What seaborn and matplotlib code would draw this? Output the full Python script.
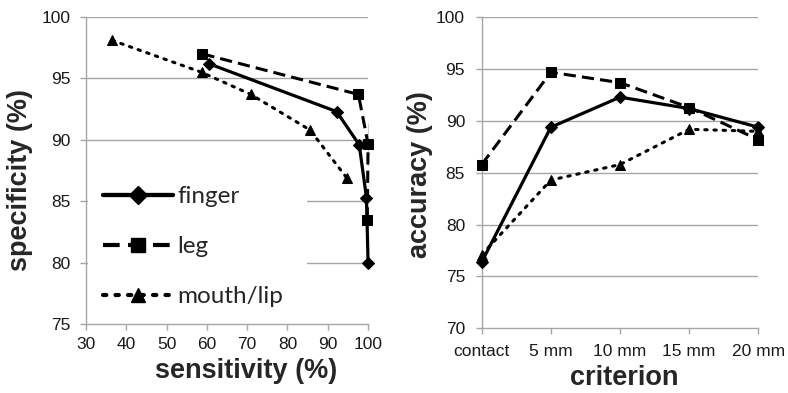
import matplotlib
matplotlib.use("Agg")
import matplotlib.pyplot as plt
import seaborn as sns
import pandas as pd
from matplotlib.lines import Line2D
from matplotlib.patches import Rectangle

# ---- data ----
series_names = ["finger", "leg", "mouth/lip"]

roc_finger_sens = [60.5, 92.2, 97.8, 99.6, 100.0]
roc_finger_spec = [96.2, 92.3, 89.6, 85.3, 80.0]
roc_leg_sens = [58.9, 97.6, 100.0, 100.0, 99.8]
roc_leg_spec = [97.0, 93.7, 91.4, 87.9, 83.5]
roc_mouth_sens = [36.5, 58.7, 70.9, 85.6, 94.7]
roc_mouth_spec = [98.1, 95.5, 93.7, 90.8, 86.9]

criteria = ["contact", "5 mm", "10 mm", "15 mm", "20 mm"]
acc_finger = [76.4, 89.4, 92.3, 91.2, 89.4]
acc_leg = [85.8, 94.7, 93.7, 91.3, 88.2]
acc_mouth = [77.1, 84.3, 85.8, 89.2, 89.0]

x_ticks_left = [30, 40, 50, 60, 70, 80, 90, 100]
y_ticks_left = [75, 80, 85, 90, 95, 100]
y_ticks_right = [70, 75, 80, 85, 90, 95, 100]

# ---- style ----
sns.set_theme(style="white")
plt.rcParams["font.family"] = ["Liberation Sans", "DejaVu Sans"]

styles = {
    "finger": dict(ls="-", marker="D", ms=6.5, lw=2.3),
    "leg": dict(ls=(0, (4, 2)), marker="s", ms=7.5, lw=2.2),
    "mouth/lip": dict(ls=(0, (0.8, 2.2)), marker="^", ms=7.5, lw=2.2),
}
grid_c = "#a6a6a6"
tick_c = "#1a1a1a"

fig = plt.figure(figsize=(7.88, 3.93), dpi=100)
axL = fig.add_axes([0.1091, 0.1756, 0.358, 0.781])
axR = fig.add_axes([0.6113, 0.1646, 0.351, 0.7913])

roc = {
    "finger": (roc_finger_sens, roc_finger_spec),
    "leg": (roc_leg_sens, roc_leg_spec),
    "mouth/lip": (roc_mouth_sens, roc_mouth_spec),
}
acc = {"finger": acc_finger, "leg": acc_leg, "mouth/lip": acc_mouth}

for name in series_names:
    st = styles[name]
    cap = "round" if name == "mouth/lip" else "butt"
    xs, ys = roc[name]
    df = pd.DataFrame({"x": xs, "y": ys})
    sns.lineplot(data=df, x="x", y="y", sort=False, ax=axL, color="black",
                 linestyle=st["ls"], marker=st["marker"], markersize=st["ms"],
                 linewidth=st["lw"], markeredgecolor="black", zorder=3,
                 clip_on=False, dash_capstyle=cap)
    dfa = pd.DataFrame({"crit": criteria, "acc": acc[name]})
    sns.lineplot(data=dfa, x="crit", y="acc", sort=False, ax=axR, color="black",
                 linestyle=st["ls"], marker=st["marker"], markersize=st["ms"],
                 linewidth=st["lw"], markeredgecolor="black", zorder=3,
                 clip_on=False, dash_capstyle=cap)

def style_axes(ax, xlim, ylim, yticks, xpad, ypad):
    ax.set_xlim(*xlim)
    ax.set_ylim(*ylim)
    ax.set_yticks(yticks)
    for g in yticks:
        if g != ylim[0]:
            ax.axhline(g, color=grid_c, lw=1.0, zorder=1)
    for s in ["top", "right"]:
        ax.spines[s].set_visible(False)
    for s in ["left", "bottom"]:
        ax.spines[s].set_color(grid_c)
        ax.spines[s].set_linewidth(1.0)
    ax.tick_params(axis="both", direction="out", length=4, width=1,
                   color=grid_c, labelsize=12.5, labelcolor=tick_c,
                   bottom=True, left=True)
    ax.tick_params(axis="x", pad=xpad)
    ax.tick_params(axis="y", pad=ypad)

style_axes(axL, (30, 100), (75, 100), y_ticks_left, 5.5, 7)
axL.set_xticks(x_ticks_left)
axL.set_xlabel("sensitivity (%)", fontsize=19.5, fontweight="bold")
axL.set_ylabel("specificity (%)", fontsize=19.5, fontweight="bold")
axL.xaxis.set_label_coords(0.567, -0.112)
axL.yaxis.set_label_coords(-0.188, 0.469)

style_axes(axR, (0, len(criteria) - 1), (70, 100), y_ticks_right, 7.5, 8)
axR.set_xticks(range(len(criteria)))
axR.set_xticklabels(criteria)
axR.set_xlabel("criterion", fontsize=19.5, fontweight="bold")
axR.set_ylabel("accuracy (%)", fontsize=19.5, fontweight="bold")
axR.xaxis.set_label_coords(0.515, -0.117)
axR.yaxis.set_label_coords(-0.176, 0.493)

# white patch behind legend (hides gridlines like the original)
axL.add_patch(Rectangle((0.007, 0.02), 0.777, 0.465, transform=axL.transAxes,
                        facecolor="white", edgecolor="none", zorder=2))

handles = [Line2D([0], [0], color="black", linestyle=styles[n]["ls"],
                  marker=styles[n]["marker"], markersize=styles[n]["ms"] + 3,
                  linewidth=styles[n]["lw"] + 0.8,
                  dash_capstyle=("round" if n == "mouth/lip" else "butt"))
           for n in series_names]
leg = axL.legend(handles, series_names, loc="upper left",
                 bbox_to_anchor=(103 / 788, 1 - 186 / 393),
                 bbox_transform=fig.transFigure, frameon=False,
                 handlelength=2.9, handletextpad=0.15, labelspacing=1.2,
                 borderpad=0.0, borderaxespad=0.0,
                 prop={"family": "Lato", "size": 17.5})
leg.set_zorder(5)

fig.savefig("out.png", dpi=100)
